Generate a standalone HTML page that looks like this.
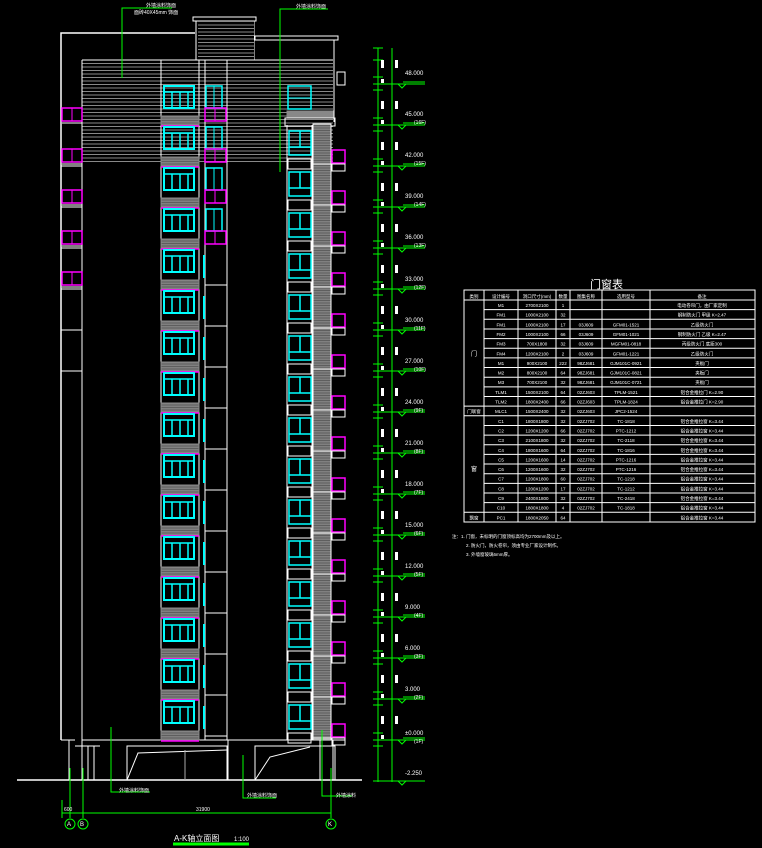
<!DOCTYPE html>
<html><head><meta charset="utf-8">
<style>
html,body{margin:0;padding:0;background:#000;width:762px;height:848px;overflow:hidden}
svg{display:block}
text{font-family:"Liberation Sans","Noto Sans CJK SC",sans-serif;fill:#fff}
</style></head><body>
<svg width="762" height="848" viewBox="0 0 762 848" xmlns="http://www.w3.org/2000/svg" xmlns:xlink="http://www.w3.org/1999/xlink">
<defs>
<pattern id="hb" width="10" height="3.5" patternUnits="userSpaceOnUse"><rect width="10" height="3.5" fill="#000"/><line x1="0" y1="0.5" x2="10" y2="0.5" stroke="#888" stroke-width="1"/></pattern>
<pattern id="st" width="10" height="2.5" patternUnits="userSpaceOnUse"><rect width="10" height="2.5" fill="#808080"/><line x1="0" y1="0.5" x2="10" y2="0.5" stroke="#555" stroke-width="0.8"/></pattern>
<g id="f1" fill="none">
<rect x="164" y="86" width="30" height="22" stroke="#0ff" stroke-width="2"/>
<path d="M164 92H194M172 92V108M180 92V108M188 92V108" stroke="#0ff" stroke-width="1.5"/>
<rect x="161" y="116" width="38" height="9" fill="url(#st)" stroke="#888"/>
<line x1="161" y1="126" x2="199" y2="126" stroke="#f0f" stroke-width="1.5"/>
</g>
<g id="f2a" fill="none">
<rect x="206" y="86" width="16" height="22" stroke="#0ff" stroke-width="1.5"/>
<line x1="214" y1="86" x2="214" y2="108" stroke="#0ff"/>
<rect x="205" y="108" width="21" height="13" stroke="#f0f" stroke-width="1.5"/>
<line x1="215" y1="108" x2="215" y2="121" stroke="#f0f"/>
</g>
<g id="f2b" fill="none">
<line x1="204" y1="255" x2="204" y2="278" stroke="#0ff" stroke-width="2"/>
<line x1="205" y1="285" x2="227" y2="285" stroke="#fff"/>
</g>
<g id="f3" fill="none">
<rect x="289" y="131" width="22" height="24" stroke="#0ff" stroke-width="1.5"/>
<path d="M300 131V147M289 147H311" stroke="#0ff" stroke-width="1.5"/>
<rect x="288" y="159" width="23" height="10" stroke="#fff"/>
</g>
<g id="f4" fill="none">
<rect x="332" y="150" width="13" height="13" stroke="#f0f" stroke-width="1.5"/>
<rect x="332" y="164" width="13" height="7" stroke="#fff"/>
<line x1="313" y1="164" x2="331" y2="164" stroke="#fff"/>
</g>
<g id="lb" fill="none">
<rect x="62" y="108" width="20" height="13" stroke="#f0f" stroke-width="1.5"/>
<line x1="72" y1="108" x2="72" y2="121" stroke="#f0f"/>
<line x1="62" y1="123" x2="82" y2="123" stroke="#fff"/>
</g>
<g id="lv" fill="none" stroke="#0f0">
<path d="M373 740H396M373 733H383M373 746H383M392 740H425M403 738H425"/>
<path d="M398 740l4 4l4-4z"/>
<rect x="381" y="716" width="3" height="8" fill="#fff" stroke="none"/>
<rect x="395" y="716" width="3" height="8" fill="#fff" stroke="none"/>
<rect x="381" y="735" width="3" height="4" fill="#fff" stroke="none"/>
</g>
</defs>

<g fill="none" stroke="#fff">
<!-- outline -->
<path d="M61 740V33H195" stroke-width="1.5"/>
<rect x="193" y="17" width="63" height="4"/>
<path d="M196 21V60M254 21V60"/>
<rect x="198" y="21" width="56" height="39" fill="url(#hb)" stroke="none"/>
<rect x="255" y="36" width="83" height="4"/>
<path d="M334 40V122"/>
<path d="M61 740H75M82 740H345"/>
<rect x="82" y="62" width="251" height="102" fill="url(#hb)" stroke="none"/>
<path d="M82 60V740M82 60H333"/>
<path d="M61 166H82M61 207H82M61 248H82M61 289H82M61 330H82M61 371H82"/>
<!-- column 1 -->
<path d="M161 60V740M199 60V740"/>
<!-- column 2 -->
<path d="M205 60V740M227 60V740"/>
<!-- right -->
<path d="M287 125V740M312 125V740"/>
<rect x="285" y="118" width="50" height="8"/>
<rect x="288" y="86" width="23" height="23" stroke="#0ff" stroke-width="1.5"/>
<line x1="288" y1="98" x2="311" y2="98" stroke="#0ff"/>
<rect x="287" y="111" width="46" height="6" fill="#888" stroke="#888"/>
<rect x="313" y="124" width="18" height="616" fill="url(#st)"/>
<rect x="337" y="72" width="8" height="13"/>
<!-- ground -->
<path d="M17 780H362" stroke-width="1.5"/>
<path d="M69 740V780M82 740V780M88 746V780M94 746V780M75 746H100"/>
<rect x="127" y="746" width="100" height="34"/>
<path d="M127 780L138 753L227 750M228 740V780"/>
<path d="M185 750V780" stroke="#aaa"/>
<rect x="255" y="746" width="80" height="34"/>
<path d="M255 780L270 757L310 747M320 740V780M333 740V780"/>
</g>

<use xlink:href="#lb"/><use xlink:href="#lb" y="41"/><use xlink:href="#lb" y="82"/><use xlink:href="#lb" y="123"/><use xlink:href="#lb" y="164"/>

<use xlink:href="#f1"/><use xlink:href="#f1" y="41"/><use xlink:href="#f1" y="82"/><use xlink:href="#f1" y="123"/><use xlink:href="#f1" y="164"/><use xlink:href="#f1" y="205"/><use xlink:href="#f1" y="246"/><use xlink:href="#f1" y="287"/><use xlink:href="#f1" y="328"/><use xlink:href="#f1" y="369"/><use xlink:href="#f1" y="410"/><use xlink:href="#f1" y="451"/><use xlink:href="#f1" y="492"/><use xlink:href="#f1" y="533"/><use xlink:href="#f1" y="574"/><use xlink:href="#f1" y="615"/>

<use xlink:href="#f2a"/><use xlink:href="#f2a" y="41"/><use xlink:href="#f2a" y="82"/><use xlink:href="#f2a" y="123"/>
<use xlink:href="#f2b"/><use xlink:href="#f2b" y="41"/><use xlink:href="#f2b" y="82"/><use xlink:href="#f2b" y="123"/><use xlink:href="#f2b" y="164"/><use xlink:href="#f2b" y="205"/><use xlink:href="#f2b" y="246"/><use xlink:href="#f2b" y="287"/><use xlink:href="#f2b" y="328"/><use xlink:href="#f2b" y="369"/><use xlink:href="#f2b" y="410"/><use xlink:href="#f2b" y="451"/>

<use xlink:href="#f3"/><use xlink:href="#f3" y="41"/><use xlink:href="#f3" y="82"/><use xlink:href="#f3" y="123"/><use xlink:href="#f3" y="164"/><use xlink:href="#f3" y="205"/><use xlink:href="#f3" y="246"/><use xlink:href="#f3" y="287"/><use xlink:href="#f3" y="328"/><use xlink:href="#f3" y="369"/><use xlink:href="#f3" y="410"/><use xlink:href="#f3" y="451"/><use xlink:href="#f3" y="492"/><use xlink:href="#f3" y="533"/><use xlink:href="#f3" y="574"/>

<use xlink:href="#f4"/><use xlink:href="#f4" y="41"/><use xlink:href="#f4" y="82"/><use xlink:href="#f4" y="123"/><use xlink:href="#f4" y="164"/><use xlink:href="#f4" y="205"/><use xlink:href="#f4" y="246"/><use xlink:href="#f4" y="287"/><use xlink:href="#f4" y="328"/><use xlink:href="#f4" y="369"/><use xlink:href="#f4" y="410"/><use xlink:href="#f4" y="451"/><use xlink:href="#f4" y="492"/><use xlink:href="#f4" y="533"/><use xlink:href="#f4" y="574"/>

<!-- right dimensions -->
<g fill="none" stroke="#0f0">
<path d="M378 48V782M392 48V782M373 48H383M373 60H383M373 781H425"/>
<path d="M398 781l4 4l4-4z"/>
<!-- leaders -->
<path d="M122 78V8H172M280 172V9H328M111 727V792H150M243 755V798H276M322 730V796H352"/>
<path d="M62 813H331M62 800V818M70 768V818M83 768V818M331 768V818"/>
<circle cx="70" cy="824" r="5"/><circle cx="83" cy="824" r="5"/><circle cx="331" cy="824" r="5"/>
<path d="M173 844H249" stroke-width="3"/>
</g>
<use xlink:href="#lv"/><use xlink:href="#lv" y="-41"/><use xlink:href="#lv" y="-82"/><use xlink:href="#lv" y="-123"/><use xlink:href="#lv" y="-164"/><use xlink:href="#lv" y="-205"/><use xlink:href="#lv" y="-246"/><use xlink:href="#lv" y="-287"/><use xlink:href="#lv" y="-328"/><use xlink:href="#lv" y="-369"/><use xlink:href="#lv" y="-410"/><use xlink:href="#lv" y="-451"/><use xlink:href="#lv" y="-492"/><use xlink:href="#lv" y="-533"/><use xlink:href="#lv" y="-574"/><use xlink:href="#lv" y="-615"/><use xlink:href="#lv" y="-656"/>

<!-- table -->
<g fill="none" stroke="#fff">
<rect x="464" y="290" width="291" height="232"/>
<path d="M464 300H755M484 309.65H755M484 319.3H755M484 328.95H755M484 338.6H755M484 348.25H755M484 357.9H755M484 367.55H755M484 377.2H755M484 386.85H755M484 396.5H755M464 406.15H755M464 415.8H755M484 425.45H755M484 435.1H755M484 444.75H755M484 454.4H755M484 464.05H755M484 473.7H755M484 483.35H755M484 493H755M484 502.65H755M464 512.3H755"/>
<path d="M484 290V522M518 290V522M556 290V522M570 290V522M602 290V522M650 290V522"/>
</g>

<g font-size="5">
<text x="146" y="7">外墙涂料饰面</text>
<text x="134" y="14">面砖40X45mm 饰面</text>
<text x="296" y="8">外墙涂料饰面</text>
<text x="405" y="75" font-size="6">48.000</text>
<text x="405" y="116" font-size="6">45.000</text><text x="414" y="124">(16F)</text>
<text x="405" y="157" font-size="6">42.000</text><text x="414" y="165">(15F)</text>
<text x="405" y="198" font-size="6">39.000</text><text x="414" y="206">(14F)</text>
<text x="405" y="239" font-size="6">36.000</text><text x="414" y="247">(13F)</text>
<text x="405" y="281" font-size="6">33.000</text><text x="414" y="289">(12F)</text>
<text x="405" y="322" font-size="6">30.000</text><text x="414" y="330">(11F)</text>
<text x="405" y="363" font-size="6">27.000</text><text x="414" y="371">(10F)</text>
<text x="405" y="404" font-size="6">24.000</text><text x="414" y="412">(9F)</text>
<text x="405" y="445" font-size="6">21.000</text><text x="414" y="453">(8F)</text>
<text x="405" y="486" font-size="6">18.000</text><text x="414" y="494">(7F)</text>
<text x="405" y="527" font-size="6">15.000</text><text x="414" y="535">(6F)</text>
<text x="405" y="568" font-size="6">12.000</text><text x="414" y="576">(5F)</text>
<text x="405" y="609" font-size="6">9.000</text><text x="414" y="617">(4F)</text>
<text x="405" y="650" font-size="6">6.000</text><text x="414" y="658">(3F)</text>
<text x="405" y="691" font-size="6">3.000</text><text x="414" y="699">(2F)</text>
<text x="405" y="735" font-size="6">±0.000</text><text x="414" y="743">(1F)</text>
<text x="405" y="775" font-size="6">-2.250</text>
<text x="119" y="792">外墙涂料饰面</text>
<text x="247" y="797">外墙涂料饰面</text>
<text x="336" y="797">外墙涂料</text>
<text x="64" y="811">600</text>
<text x="196" y="811">31900</text>
<text x="67" y="826" font-size="6">A</text><text x="80" y="826" font-size="6">B</text><text x="328" y="826" font-size="6">K</text>
<text x="174" y="841" font-size="8">A-K轴立面图</text>
<text x="234" y="841" font-size="6">1:100</text>
<text x="590" y="288" font-size="11">门窗表</text>
<text x="452" y="538" font-size="4.5">注：1. 门窗，未标明的门窗顶标高均为2700mm及以上。</text>
<text x="466" y="547" font-size="4.5">2. 防火门，防火卷帘，须由专业厂家设计制作。</text>
<text x="466" y="556" font-size="4.5">3. 外墙窗玻璃6mm厚。</text>
</g>

<g font-size="4.5" text-anchor="middle">
<text y="298"><tspan x="474">类别</tspan><tspan x="501">设计编号</tspan><tspan x="537">洞口尺寸(mm)</tspan><tspan x="563">数量</tspan><tspan x="586">图集名称</tspan><tspan x="626">选用型号</tspan><tspan x="702">备注</tspan></text>
<text y="307"><tspan x="501">M1</tspan><tspan x="537">2700X2100</tspan><tspan x="563">1</tspan><tspan x="702">电动卷帘门，由厂家定制</tspan></text>
<text y="316.6"><tspan x="501">FM1</tspan><tspan x="537">1000X2100</tspan><tspan x="563">32</tspan><tspan x="702">钢制防火门 甲级 K=2.47</tspan></text>
<text y="326.3"><tspan x="501">FM1</tspan><tspan x="537">1000X2100</tspan><tspan x="563">17</tspan><tspan x="586">03J609</tspan><tspan x="626">GFM01-1521</tspan><tspan x="702">乙级防火门</tspan></text>
<text y="336"><tspan x="501">FM2</tspan><tspan x="537">1000X2100</tspan><tspan x="563">66</tspan><tspan x="586">03J609</tspan><tspan x="626">GFM01-1021</tspan><tspan x="702">钢制防火门 乙级 K=2.47</tspan></text>
<text y="345.6"><tspan x="501">FM3</tspan><tspan x="537">700X1800</tspan><tspan x="563">32</tspan><tspan x="586">03J609</tspan><tspan x="626">MGFM01-0818</tspan><tspan x="702">丙级防火门 底距300</tspan></text>
<text y="355.3"><tspan x="501">FM4</tspan><tspan x="537">1200X2100</tspan><tspan x="563">2</tspan><tspan x="586">03J609</tspan><tspan x="626">GFM01-1221</tspan><tspan x="702">乙级防火门</tspan></text>
<text y="364.9"><tspan x="501">M1</tspan><tspan x="537">900X2100</tspan><tspan x="563">222</tspan><tspan x="586">98ZJ681</tspan><tspan x="626">GJM101C-0921</tspan><tspan x="702">夹板门</tspan></text>
<text y="374.6"><tspan x="501">M2</tspan><tspan x="537">800X2100</tspan><tspan x="563">64</tspan><tspan x="586">98ZJ681</tspan><tspan x="626">GJM101C-0821</tspan><tspan x="702">夹板门</tspan></text>
<text y="384.2"><tspan x="501">M3</tspan><tspan x="537">700X2100</tspan><tspan x="563">32</tspan><tspan x="586">98ZJ681</tspan><tspan x="626">GJM101C-0721</tspan><tspan x="702">夹板门</tspan></text>
<text y="393.9"><tspan x="501">TLM1</tspan><tspan x="537">1500X2100</tspan><tspan x="563">64</tspan><tspan x="586">02ZJ603</tspan><tspan x="626">TPLM-1521</tspan><tspan x="702">铝合金推拉门 K=2.90</tspan></text>
<text y="403.5"><tspan x="501">TLM2</tspan><tspan x="537">1800X2400</tspan><tspan x="563">66</tspan><tspan x="586">02ZJ603</tspan><tspan x="626">TPLM-1824</tspan><tspan x="702">铝合金推拉门 K=2.90</tspan></text>
<text y="413.2"><tspan x="474">门联窗</tspan><tspan x="501">MLC1</tspan><tspan x="537">1500X2400</tspan><tspan x="563">32</tspan><tspan x="586">02ZJ603</tspan><tspan x="626">JPC2-1524</tspan></text>
<text y="422.8"><tspan x="501">C1</tspan><tspan x="537">1800X1800</tspan><tspan x="563">32</tspan><tspan x="586">02ZJ702</tspan><tspan x="626">TC-1818</tspan><tspan x="702">铝合金推拉窗 K=3.44</tspan></text>
<text y="432.5"><tspan x="501">C2</tspan><tspan x="537">1200X1200</tspan><tspan x="563">66</tspan><tspan x="586">02ZJ702</tspan><tspan x="626">PTC-1212</tspan><tspan x="702">铝合金推拉窗 K=3.44</tspan></text>
<text y="442.1"><tspan x="501">C3</tspan><tspan x="537">2100X1800</tspan><tspan x="563">32</tspan><tspan x="586">02ZJ702</tspan><tspan x="626">TC-2118</tspan><tspan x="702">铝合金推拉窗 K=3.44</tspan></text>
<text y="451.8"><tspan x="501">C4</tspan><tspan x="537">1800X1600</tspan><tspan x="563">64</tspan><tspan x="586">02ZJ702</tspan><tspan x="626">TC-1816</tspan><tspan x="702">铝合金推拉窗 K=3.44</tspan></text>
<text y="461.4"><tspan x="501">C5</tspan><tspan x="537">1200X1600</tspan><tspan x="563">14</tspan><tspan x="586">02ZJ702</tspan><tspan x="626">PTC-1216</tspan><tspan x="702">铝合金推拉窗 K=3.44</tspan></text>
<text y="471"><tspan x="474" font-size="6">窗</tspan><tspan x="501">C6</tspan><tspan x="537">1200X1600</tspan><tspan x="563">32</tspan><tspan x="586">02ZJ702</tspan><tspan x="626">PTC-1216</tspan><tspan x="702">铝合金推拉窗 K=3.44</tspan></text>
<text y="480.7"><tspan x="501">C7</tspan><tspan x="537">1200X1800</tspan><tspan x="563">60</tspan><tspan x="586">02ZJ702</tspan><tspan x="626">TC-1218</tspan><tspan x="702">铝合金推拉窗 K=3.44</tspan></text>
<text y="490.4"><tspan x="501">C8</tspan><tspan x="537">1200X1200</tspan><tspan x="563">17</tspan><tspan x="586">02ZJ702</tspan><tspan x="626">TC-1212</tspan><tspan x="702">铝合金推拉窗 K=3.44</tspan></text>
<text y="500"><tspan x="501">C9</tspan><tspan x="537">2400X1800</tspan><tspan x="563">32</tspan><tspan x="586">02ZJ702</tspan><tspan x="626">TC-2418</tspan><tspan x="702">铝合金推拉窗 K=3.44</tspan></text>
<text y="509.7"><tspan x="501">C10</tspan><tspan x="537">1800X1800</tspan><tspan x="563">4</tspan><tspan x="586">02ZJ702</tspan><tspan x="626">TC-1818</tspan><tspan x="702">铝合金推拉窗 K=3.44</tspan></text>
<text y="519.3"><tspan x="474">飘窗</tspan><tspan x="501">PC1</tspan><tspan x="537">1800X2050</tspan><tspan x="563">64</tspan><tspan x="702">铝合金推拉窗 K=3.44</tspan></text>
<text x="474" y="356" font-size="6">门</text>
</g>
</svg>
</body></html>
